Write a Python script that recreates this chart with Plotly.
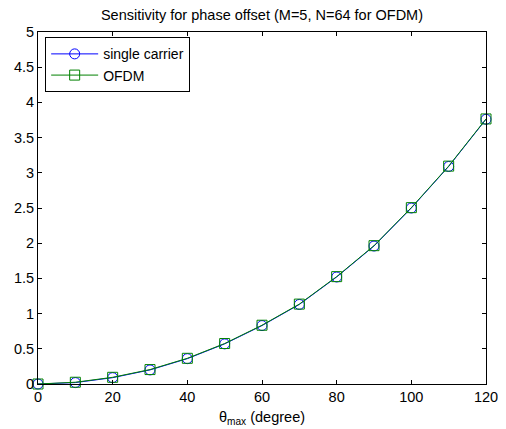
import plotly.graph_objects as go

theta = [0, 10, 20, 30, 40, 50, 60, 70, 80, 90, 100, 110, 120]
single_carrier = [0.0, 0.02, 0.09, 0.20, 0.36, 0.57, 0.83, 1.13, 1.52, 1.96, 2.50, 3.09, 3.76]
ofdm = [0.0, 0.025, 0.095, 0.205, 0.365, 0.575, 0.835, 1.135, 1.525, 1.965, 2.505, 3.095, 3.765]

x_ticks = [0, 20, 40, 60, 80, 100, 120]
y_ticks = [0, 0.5, 1, 1.5, 2, 2.5, 3, 3.5, 4, 4.5, 5]

FONT = "Liberation Sans, Arial"

fig = go.Figure()
fig.add_trace(go.Scatter(x=theta, y=single_carrier, mode="lines+markers", name="single carrier",
                         cliponaxis=False,
                         line=dict(color="#0000ff", width=1),
                         marker=dict(symbol="circle-open", size=10, color="#0000ff", line=dict(width=1))))
fig.add_trace(go.Scatter(x=theta, y=ofdm, mode="lines+markers", name="OFDM",
                         cliponaxis=False,
                         line=dict(color="#008000", width=1),
                         marker=dict(symbol="square-open", size=10, color="#008000", line=dict(width=1))))

axis_common = dict(showgrid=False, zeroline=False, showline=True, linecolor="black", linewidth=1,
                   mirror="ticks", ticks="inside", ticklen=4, tickcolor="black", automargin=False,
                   tickfont=dict(family=FONT, size=14.5, color="black"))

fig.update_layout(
    width=498, height=421,
    margin=dict(l=30, r=20, t=24, b=45),
    paper_bgcolor="white", plot_bgcolor="white",
    title=dict(text="Sensitivity for phase offset (M=5, N=64 for OFDM)", x=0.5, xanchor="center",
               xref="paper", y=0.995, yanchor="top",
               font=dict(family=FONT, size=14.5, color="black")),
    xaxis=dict(range=[0, 120], tickvals=x_ticks, **axis_common,
               title=dict(text="θ<sub>max</sub> (degree)", standoff=7,
                          font=dict(family=FONT, size=14.5, color="black"))),
    yaxis=dict(range=[0, 5], tickvals=y_ticks, ticktext=[f"{v:g}" for v in y_ticks], **axis_common),
    legend=dict(x=0.016, y=0.985, xanchor="left", yanchor="top", bordercolor="black", borderwidth=1,
                bgcolor="white", font=dict(family=FONT, size=14, color="black"),
                tracegroupgap=0, itemwidth=47),
    showlegend=True,
)

fig.write_html("out.html")
